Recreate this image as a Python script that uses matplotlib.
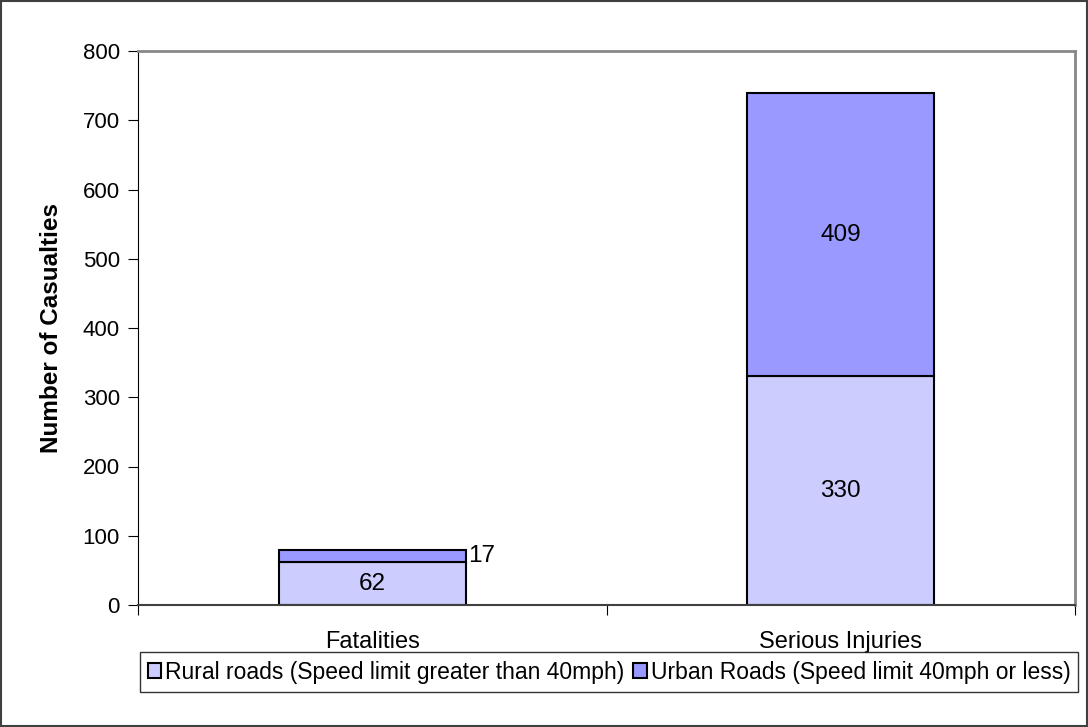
import matplotlib.pyplot as plt
from matplotlib.patches import Rectangle

plt.rcParams['font.family'] = ['Liberation Sans', 'DejaVu Sans']

# data
categories = ['Fatalities', 'Serious Injuries']
rural = [62, 330]
urban = [17, 409]
series_names = ['Rural roads (Speed limit greater than 40mph)',
                'Urban Roads (Speed limit 40mph or less)']
rural_color = '#CCCCFF'
urban_color = '#9999FF'

fs = 16

fig = plt.figure(figsize=(10.88, 7.27), dpi=100)
ax = fig.add_axes([138/1088, 1 - 605/727, (1075-138)/1088, (605-51)/727])

x = range(len(categories))
width = 0.4
b1 = ax.bar(x, rural, width, color=rural_color, edgecolor='black', linewidth=1.5,
            label=series_names[0])
b2 = ax.bar(x, urban, width, bottom=rural, color=urban_color, edgecolor='black',
            linewidth=1.5, label=series_names[1])

# value labels
for i in x:
    ax.text(i, rural[i] / 2, str(rural[i]), ha='center', va='center', fontsize=fs + 1.5)
    mid = rural[i] + urban[i] / 2
    if urban[i] < 40:
        ax.text(i + width / 2 + 0.005, mid, str(urban[i]), ha='left', va='center',
                fontsize=fs + 1.5)
    else:
        ax.text(i, mid, str(urban[i]), ha='center', va='center', fontsize=fs + 1.5)

ax.set_xlim(-0.5, 1.5)
ax.set_ylim(0, 800)
ax.set_yticks(range(0, 801, 100))
ax.set_xticks([-0.5, 0.5, 1.5], minor=False)
ax.set_xticklabels([])
ax.set_xticks(list(x), minor=True)
ax.set_xticklabels(categories, minor=True, fontsize=fs + 1)
ax.tick_params(axis='x', which='minor', length=0, pad=19)
ax.tick_params(axis='x', which='major', direction='out', length=7, color='black')
ax.tick_params(axis='y', direction='out', length=7, labelsize=fs, pad=6)
ax.set_ylabel('Number of Casualties', fontsize=17.5, fontweight='bold', labelpad=14)

ax.spines['left'].set_color('black')
ax.spines['bottom'].set_color('#404040')
ax.spines['bottom'].set_linewidth(1.5)
for s in ['top', 'right']:
    ax.spines[s].set_color('#888888')
    ax.spines[s].set_linewidth(2)

leg = fig.legend(handles=[b1, b2], loc='center', bbox_to_anchor=(609/1088, 1 - 672/727),
                 ncol=2, fontsize=fs + 0.5, frameon=True, fancybox=False, edgecolor='black',
                 handlelength=0.6, handleheight=0.6, handletextpad=0.15, columnspacing=0.4,
                 borderpad=0.35, borderaxespad=0)
leg.get_frame().set_linewidth(1.0)

# outer border
fig.patches.append(Rectangle((0.001, 0.001), 0.998, 0.997, transform=fig.transFigure,
                             fill=False, edgecolor='#404040', linewidth=1.5))

fig.savefig('out.png', dpi=100)
